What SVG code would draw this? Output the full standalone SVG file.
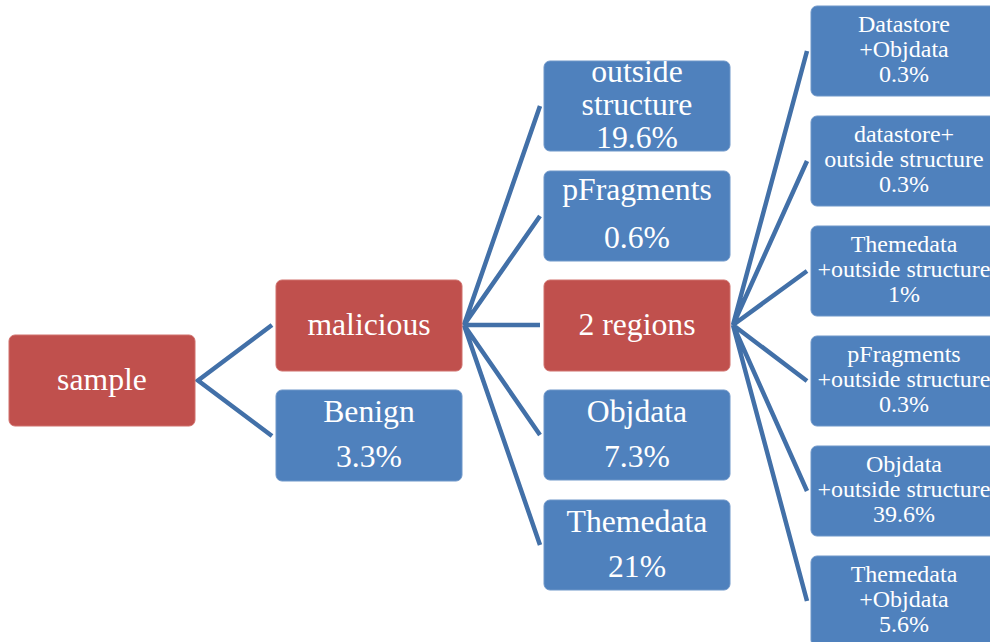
<svg xmlns="http://www.w3.org/2000/svg" width="990" height="642" viewBox="0 0 990 642">
<style>
.r{fill:#c0504d;stroke:#d0706c;stroke-width:1}
.b{fill:#4f81bd;stroke:#6f97c9;stroke-width:1}
.t{fill:#fff;text-anchor:middle}
.l{font-size:31.7px}
.s{font-size:24px}
.c{stroke:#4270a8;stroke-width:4.5;fill:none;stroke-linecap:butt}
</style>
<defs>
<clipPath id="clipOut"><rect x="544" y="61" width="186" height="90"/></clipPath>
</defs>
<rect width="990" height="642" fill="#fff"/>
<g id="connectors">
<path class="c" d="M272,325 L198,380.5 L272,436"/>
<path class="c" d="M540,106 L464,325 L540,216 M464,325 L540,325 M464,325 L540,435 M464,325 L540,545"/>
<path class="c" d="M807,51 L733,325 L807,161 M733,325 L807,271 M733,325 L807,381 M733,325 L807,491 M733,325 L807,601"/>
</g>
<g font-family="'Liberation Serif', serif">
<g id="sample"><rect class="r" x="9" y="335" width="186" height="91" rx="6"/><text class="t l" x="102" y="390">sample</text></g>
<g id="malicious"><rect class="r" x="276" y="280" width="186" height="91" rx="6"/><text class="t l" x="369" y="334.5">malicious</text></g>
<g id="benign"><rect class="b" x="276" y="390" width="186" height="91" rx="6"/><text class="t l" x="369" y="422">Benign</text><text class="t l" x="369" y="467">3.3%</text></g>
<g id="outside"><rect class="b" x="544" y="61" width="186" height="90" rx="6"/><g clip-path="url(#clipOut)"><text class="t l" x="637" y="82">outside</text><text class="t l" x="637" y="115">structure</text><text class="t l" x="637" y="148">19.6%</text></g></g>
<g id="pfragments"><rect class="b" x="544" y="171" width="186" height="90" rx="6"/><text class="t l" x="637" y="200">pFragments</text><text class="t l" x="637" y="248">0.6%</text></g>
<g id="regions2"><rect class="r" x="544" y="280" width="186" height="91" rx="6"/><text class="t l" x="637" y="334.5">2 regions</text></g>
<g id="objdata"><rect class="b" x="544" y="390" width="186" height="90" rx="6"/><text class="t l" x="637" y="422">Objdata</text><text class="t l" x="637" y="467">7.3%</text></g>
<g id="themedata"><rect class="b" x="544" y="500" width="186" height="90" rx="6"/><text class="t l" x="637" y="532">Themedata</text><text class="t l" x="637" y="577">21%</text></g>
<g id="ds-obj"><rect class="b" x="811" y="6" width="186" height="90" rx="6"/><text class="t s" x="904" y="32">Datastore</text><text class="t s" x="904" y="57">+Objdata</text><text class="t s" x="904" y="82">0.3%</text></g>
<g id="ds-out"><rect class="b" x="811" y="116" width="186" height="90" rx="6"/><text class="t s" x="904" y="142">datastore+</text><text class="t s" x="904" y="167">outside structure</text><text class="t s" x="904" y="192">0.3%</text></g>
<g id="theme-out"><rect class="b" x="811" y="226" width="186" height="90" rx="6"/><text class="t s" x="904" y="252">Themedata</text><text class="t s" x="904" y="277">+outside structure</text><text class="t s" x="904" y="302">1%</text></g>
<g id="pf-out"><rect class="b" x="811" y="336" width="186" height="90" rx="6"/><text class="t s" x="904" y="362">pFragments</text><text class="t s" x="904" y="387">+outside structure</text><text class="t s" x="904" y="412">0.3%</text></g>
<g id="obj-out"><rect class="b" x="811" y="446" width="186" height="90" rx="6"/><text class="t s" x="904" y="472">Objdata</text><text class="t s" x="904" y="497">+outside structure</text><text class="t s" x="904" y="522">39.6%</text></g>
<g id="theme-obj"><rect class="b" x="811" y="556" width="186" height="90" rx="6"/><text class="t s" x="904" y="582">Themedata</text><text class="t s" x="904" y="607">+Objdata</text><text class="t s" x="904" y="632">5.6%</text></g>
</g>
</svg>
